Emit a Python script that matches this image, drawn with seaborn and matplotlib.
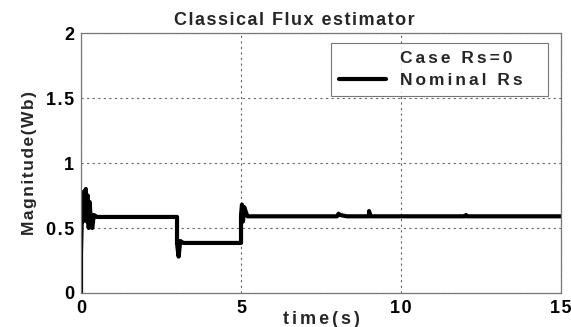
import matplotlib
matplotlib.use("Agg")
import matplotlib.pyplot as plt
import seaborn as sns
import pandas as pd
from matplotlib.lines import Line2D

# Flux magnitude response of the classical estimator (nominal stator resistance)
time_s = [0, 0, 0.03, 0.06, 0.09, 0.12, 0.15, 0.18, 0.21, 0.24, 0.27, 0.3, 0.35,
          0.4, 0.5, 3.0, 3.0, 3.05, 3.1, 3.2, 5.0, 5.0, 5.03, 5.06, 5.1, 5.2,
          8.0, 8.05, 8.1, 8.3, 9.0, 9.0, 9.05, 12.0, 12.03, 12.06, 15.0]
flux_nominal = [0, 0.3, 0.65, 0.55, 0.78, 0.6, 0.8, 0.55, 0.75, 0.5, 0.7, 0.58, 0.5,
                0.6, 0.585, 0.585, 0.38, 0.28, 0.4, 0.385, 0.385, 0.6, 0.68, 0.55,
                0.66, 0.59, 0.59, 0.61, 0.6, 0.59, 0.59, 0.63, 0.59, 0.59, 0.6,
                0.59, 0.59]

x_ticks = [0, 5, 10, 15]
x_tick_labels = ["0", "5", "10", "15"]
y_ticks = [0, 0.5, 1, 1.5, 2]
y_tick_labels = ["0", "0.5", "1", "1.5", "2"]
legend_labels = ["Case Rs=0", "Nominal Rs"]
title_text = "Classical Flux estimator"
x_label = "time(s)"
y_label = "Magnitude(Wb)"


def spaced(s, n=1):
    # widen the tracking with hair spaces between glyphs
    return ("\u200a" * n).join(s)


sns.set_theme(style="white")
plt.rcParams["font.family"] = ["Liberation Sans", "DejaVu Sans"]

df = pd.DataFrame({"t": time_s, "flux": flux_nominal})

fig = plt.figure(figsize=(5.71, 3.27), dpi=100)
ax = fig.add_axes([0.1419, 0.104, 0.8406, 0.795])

sns.lineplot(data=df, x="t", y="flux", ax=ax, color="black", linewidth=3.0,
             sort=False, estimator=None)

ax.set_xlim(0, 15)
ax.set_ylim(0, 2)
ax.set_xticks(x_ticks)
ax.set_xticklabels([spaced(s) for s in x_tick_labels])
ax.set_yticks(y_ticks)
ax.set_yticklabels([spaced(s) for s in y_tick_labels])
ax.tick_params(direction="in", length=3, labelsize=13, colors="black", pad=5)
for lab in ax.get_xticklabels() + ax.get_yticklabels():
    lab.set_fontweight("bold")

ax.grid(True, color="#666666", linestyle=(0, (2, 3)), linewidth=0.8)
for sp in ax.spines.values():
    sp.set_color("#777777")
    sp.set_linewidth(0.9)

fig.text(0.516, 0.925, spaced(title_text), ha="center", va="baseline",
         fontsize=13, fontweight="bold")
ax.set_xlabel(spaced(x_label, 2), fontsize=13, fontweight="bold", labelpad=-4)
ax.set_ylabel(spaced(y_label), fontsize=12.5, fontweight="bold", labelpad=6)

handles = [Line2D([], [], color="none", linewidth=3),
           Line2D([], [], color="black", linewidth=3)]
labels = [spaced(s, 2) + "\u2003" for s in legend_labels]
leg = ax.legend(handles, labels, loc="upper right",
                fontsize=12.5, frameon=True, fancybox=False, borderpad=0.45,
                handlelength=2.75, handletextpad=0.8, labelspacing=0.4,
                borderaxespad=0, bbox_to_anchor=(0.973, 0.9615))
leg.get_frame().set_edgecolor("#555555")
leg.get_frame().set_linewidth(0.8)
for t in leg.get_texts():
    t.set_fontweight("bold")

fig.savefig("out.png", dpi=100)
